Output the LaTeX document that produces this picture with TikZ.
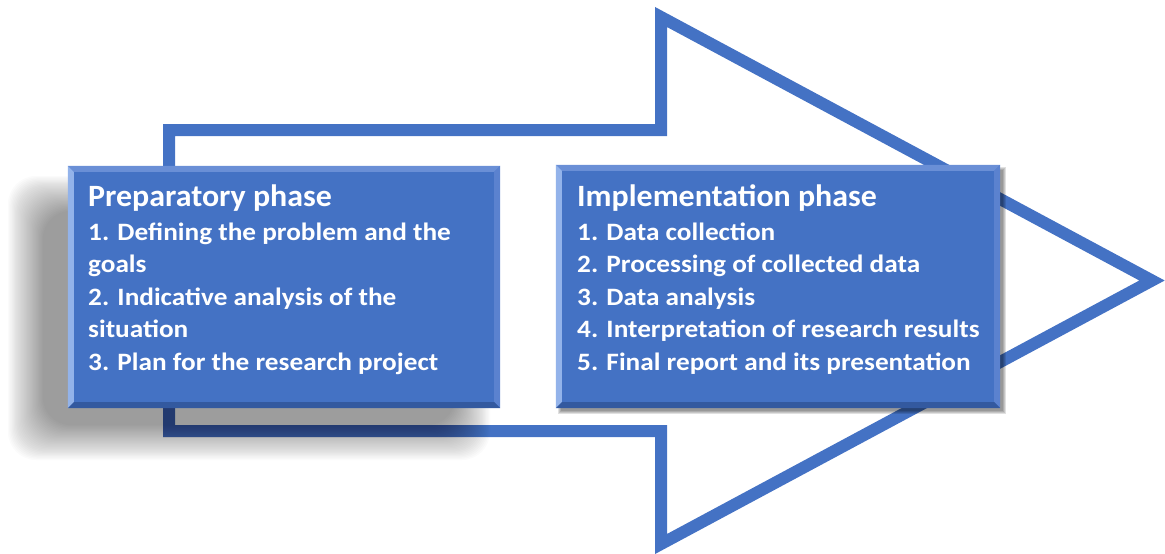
\documentclass[tikz,border=0pt]{standalone}
\usepackage{fontspec}
\setmainfont{Carlito}
\newfontfamily\itemfont[FakeStretch=1.09]{Carlito}
\newfontfamily\titlefont[FakeStretch=1.03]{Carlito}
\usetikzlibrary{calc}
\definecolor{boxblue}{HTML}{4472C4}
\definecolor{arrowblue}{HTML}{4472C4}
\definecolor{bevlight}{HTML}{93B3EA}
\definecolor{bevtop}{HTML}{6A8FD6}
\definecolor{bevright}{HTML}{5B82CF}
\definecolor{bevdark}{HTML}{33599F}
\begin{document}
\begin{tikzpicture}[x=1pt,y=-1pt,
  arrowline/.style={draw=arrowblue, line width=12pt, line join=miter},
  phasebox/.style={rectangle, fill=boxblue, draw=none, inner sep=0pt},
  titletext/.style={text=white, font=\titlefont\fontsize{31}{36}\selectfont\bfseries, anchor=base west, inner sep=0pt},
  itemtext/.style={text=white, font=\itemfont\fontsize{25}{30}\selectfont\bfseries, anchor=base west, inner sep=0pt}]
\useasboundingbox (0,0) rectangle (1165,554);
% arrow outline
\draw[arrowline] (169,130) -- (661,130) -- (661,17) -- (1152,280.5) -- (661,544) -- (661,431) -- (169,431) -- cycle;
% soft shadow of left box
\foreach \i in {0,...,29}{
  \fill[black, opacity=0.016, rounded corners=28pt] (8+1.2*\i,176+1.2*\i) rectangle (490-1.2*\i,460-1.2*\i);
}
% shadow of right box
\foreach \i in {0,...,3}{
  \fill[black, opacity=0.12] (558+\i,167+\i) rectangle (1006-\i,414-\i);
}
% boxes
\node[phasebox, minimum width=432pt, minimum height=242pt] (prep) at (284,287) {};
\node[phasebox, minimum width=444pt, minimum height=243pt] (impl) at (778,286.5) {};
% bevels
\foreach \b in {prep,impl}{
  \fill[bevtop] (\b.north west) -- (\b.north east) -- ($(\b.north east)+(-6,6)$) -- ($(\b.north west)+(6,6)$) -- cycle;
  \fill[bevlight] (\b.north west) -- ($(\b.north west)+(6,6)$) -- ($(\b.south west)+(6,-6)$) -- (\b.south west) -- cycle;
  \fill[bevright] (\b.north east) -- ($(\b.north east)+(-6,6)$) -- ($(\b.south east)+(-6,-6)$) -- (\b.south east) -- cycle;
  \fill[bevdark] (\b.south west) -- ($(\b.south west)+(6,-6)$) -- ($(\b.south east)+(-6,-6)$) -- (\b.south east) -- cycle;
}
% left texts
\node[titletext] (pt) at (88,206) {Preparatory phase};
\node[itemtext] (p1) at (88,240) {1. Defining the problem and the};
\node[itemtext] (p1b) at (88,272.5) {goals};
\node[itemtext] (p2) at (88,305) {2. Indicative analysis of the};
\node[itemtext] (p2b) at (88,337.5) {situation};
\node[itemtext] (p3) at (88,370) {3. Plan for the research project};
% right texts
\node[titletext] (it) at (577,206) {Implementation phase};
\node[itemtext] (i1) at (577,240) {1. Data collection};
\node[itemtext] (i2) at (577,272.5) {2. Processing of collected data};
\node[itemtext] (i3) at (577,305) {3. Data analysis};
\node[itemtext] (i4) at (577,337.5) {4. Interpretation of research results};
\node[itemtext] (i5) at (577,370) {5. Final report and its presentation};
\end{tikzpicture}
\end{document}
